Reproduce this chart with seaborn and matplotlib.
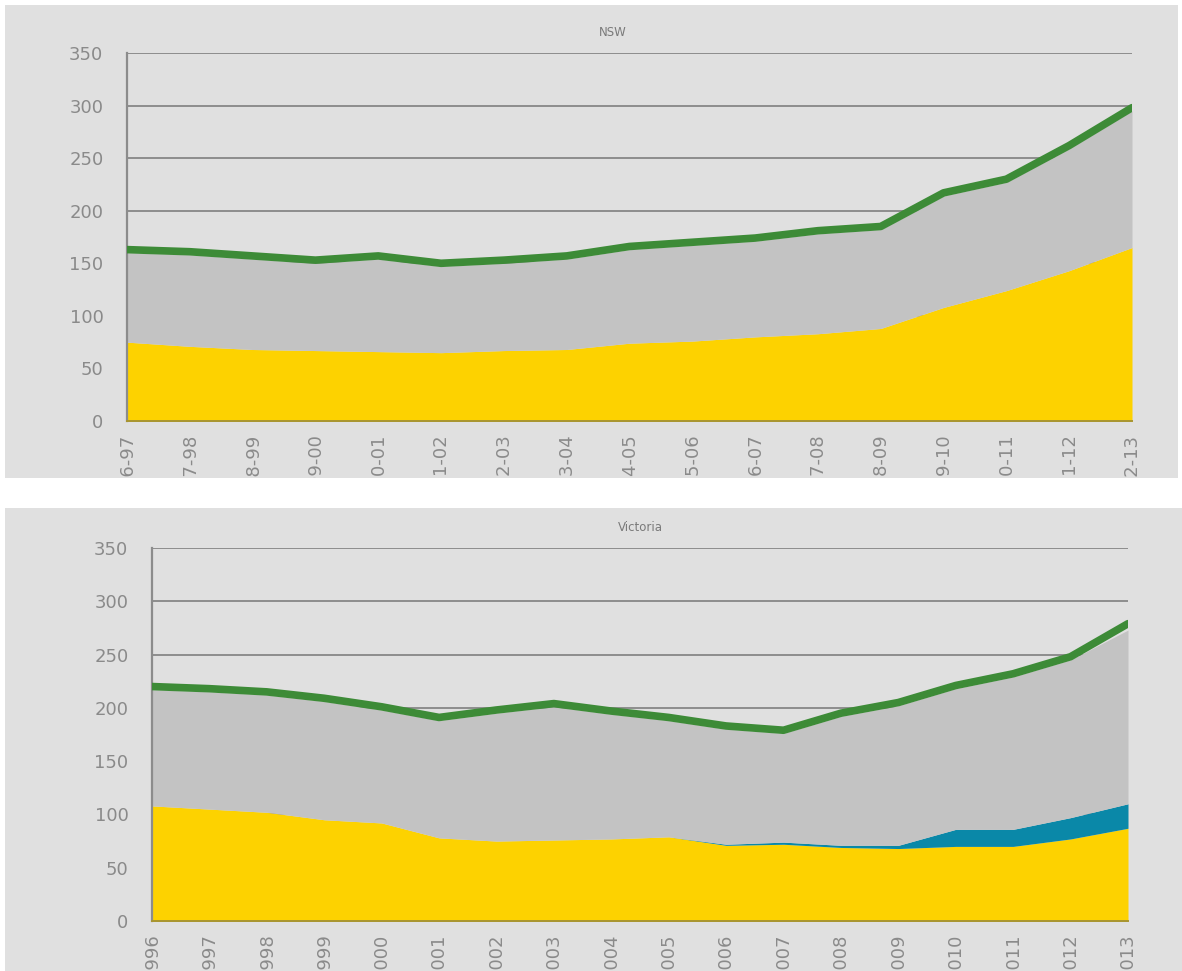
import matplotlib
matplotlib.use("Agg")
import matplotlib.pyplot as plt
import numpy as np
import seaborn as sns
from matplotlib.patches import Rectangle
from matplotlib.transforms import Bbox, TransformedBbox

# NSW, financial years
nsw_years = ['1996-97', '1997-98', '1998-99', '1999-00', '2000-01', '2001-02',
             '2002-03', '2003-04', '2004-05', '2005-06', '2006-07', '2007-08',
             '2008-09', '2009-10', '2010-11', '2011-12', '2012-13']
nsw_yellow = [75, 71, 68, 67, 66, 65, 67, 68, 74, 76, 80, 83, 88, 108, 124, 143, 165]
nsw_grey = [85, 87, 86, 83, 88, 82, 83, 86, 89, 91, 91, 95, 94, 106, 103, 116, 130]
nsw_total = [163, 161, 157, 153, 157, 150, 153, 157, 166, 170, 174, 181, 185, 217, 230, 262, 298]

# Victoria, calendar years
vic_years = ['1996', '1997', '1998', '1999', '2000', '2001', '2002', '2003', '2004',
             '2005', '2006', '2007', '2008', '2009', '2010', '2011', '2012', '2013']
vic_yellow = [108, 105, 102, 95, 92, 78, 75, 76, 77, 79, 71, 72, 69, 68, 70, 70, 77, 87]
vic_teal = [0, 0, 0, 0, 0, 0, 0, 0, 0, 0, 1, 2, 2, 3, 16, 16, 20, 23]
vic_grey = [109, 110, 110, 111, 106, 110, 120, 125, 117, 109, 108, 102, 121, 131, 132, 143, 148, 163]
vic_total = [220, 218, 215, 209, 201, 191, 198, 204, 197, 191, 183, 179, 195, 205, 221, 232, 248, 279]

YELLOW = '#fdd200'
GREY = '#c3c3c3'
TEAL = '#0a88a8'
GREEN = '#3d8b37'
PANEL = '#e0e0e0'
TICK = '#8a8a8a'

sns.set_theme(style="white")
plt.rcParams['font.family'] = ['DejaVu Sans']

W, H = 1182, 971
fig = plt.figure(figsize=(W / 100, H / 100), dpi=100, facecolor='white')


def fig_rect(x0, y0, x1, y1):
    # pixel box (top-down) -> figure fraction bounds
    return (x0 / W, (H - y1) / H, (x1 - x0) / W, (y1 - y0) / H)


def draw_panel(panel_px, axes_px, title, title_x, years, layers, colors, total, ypad):
    pb = fig_rect(*panel_px)
    fig.add_artist(Rectangle(pb[:2], pb[2], pb[3], transform=fig.transFigure,
                             facecolor=PANEL, edgecolor='none', zorder=-5))
    ax = fig.add_axes(fig_rect(*axes_px))
    ax.set_facecolor('none')
    x = np.arange(len(years))
    ax.stackplot(x, *layers, colors=colors, linewidth=0, zorder=2)
    sns.lineplot(x=x, y=total, ax=ax, color=GREEN, linewidth=5.5, zorder=4)

    ax.set_xlim(0, len(years) - 1)
    ax.set_ylim(0, 350)
    ax.set_yticks(range(0, 351, 50))
    ax.yaxis.grid(True, color='#7f7f7f', linewidth=1.2, zorder=1)
    ax.set_axisbelow(True)
    ax.tick_params(axis='y', length=0, pad=ypad, labelsize=13, labelcolor=TICK)
    ax.set_xticks(x, labels=years, rotation=90)
    ax.tick_params(axis='x', length=0, pad=9, labelsize=13, labelcolor=TICK)

    for s in ['top', 'right']:
        ax.spines[s].set_visible(False)
    ax.spines['left'].set_color('#8c8c8c')
    ax.spines['left'].set_linewidth(1.6)
    ax.spines['bottom'].set_color('#a89530')
    ax.spines['bottom'].set_linewidth(1.4)
    ax.spines['bottom'].set_zorder(5)

    # the year labels are cut off by the panel edge, as in the source image
    clip = TransformedBbox(Bbox.from_bounds(*pb), fig.transFigure)
    for lbl in ax.get_xticklabels():
        lbl.set_clip_box(clip)
        lbl.set_clip_on(True)

    ax.text(title_x, 1.055, title, transform=ax.transAxes, ha='center', va='center',
            fontsize=8.5, color='#7a7a7a')
    return ax


draw_panel((5, 5, 1178, 478), (127, 53, 1132, 421), 'NSW', 0.483, nsw_years,
           [nsw_yellow, nsw_grey], [YELLOW, GREY], nsw_total, ypad=17)

draw_panel((5, 508, 1182, 971), (152, 548, 1128, 921), 'Victoria', 0.5, vic_years,
           [vic_yellow, vic_teal, vic_grey], [YELLOW, TEAL, GREY], vic_total, ypad=17)

fig.savefig('out.png', dpi=100, facecolor='white')
